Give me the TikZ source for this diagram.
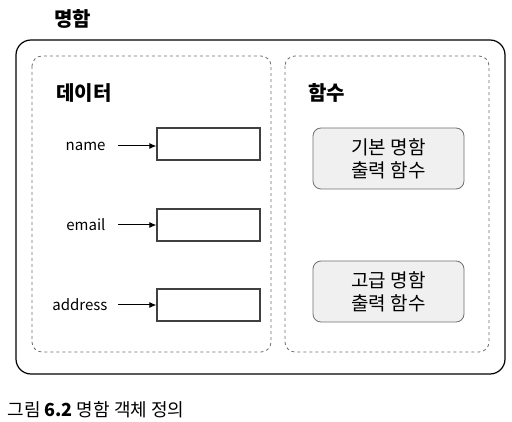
\documentclass[tikz,border=0pt]{standalone}
\usepackage{fontspec}
\setmainfont{Noto Sans CJK KR}
\usetikzlibrary{positioning,arrows.meta}
\definecolor{fungray}{HTML}{F0F0F0}
\definecolor{edgegray}{HTML}{707070}
\tikzset{
  groupbox/.style={draw=edgegray, dashed, rounded corners=10pt, line width=0.8pt},
  fieldbox/.style={draw=black!75, line width=1.2pt, minimum width=103pt, minimum height=32pt, inner sep=0pt},
  funcbox/.style={draw=edgegray, fill=fungray, rounded corners=8pt, line width=0.8pt, minimum width=151pt, minimum height=61pt, align=center, font=\fontsize{19}{23}\selectfont},
  fieldname/.style={font=\fontsize{15}{18}\selectfont, anchor=east},
  heading/.style={font=\fontsize{20}{24}\selectfont\bfseries, anchor=west},
  pointer/.style={-{Latex[length=7pt,width=6pt]}, line width=1pt}
}
\begin{document}
\begin{tikzpicture}[x=1pt, y=-1pt]
            \useasboundingbox[fill=white] (0,0) rectangle (512,422);
            \node[heading] (title) at (51,19) {명함};
            \draw[line width=1.2pt, rounded corners=15pt] (16,40) rectangle (505,374);
            \draw[groupbox] (32,56) rectangle (271,352);
            \draw[groupbox] (285,56) rectangle (489,352);
            \node[heading] (data) at (53,93) {데이터};
            \node[heading] (func) at (305,93) {함수};
            % data fields
            \node[fieldbox] (namebox) at (208.5,144) {};
            \node[fieldbox] (emailbox) at (208.5,225) {};
            \node[fieldbox] (addrbox) at (208.5,305) {};
            \node[fieldname] (name) at (109,146) {name};
            \node[fieldname] (email) at (109,225) {email};
            \node[fieldname] (addr) at (111,305) {address};
            \draw[pointer] (name.east) ++(9pt,0) coordinate (n0) (n0) -- (namebox.west |- n0);
            \draw[pointer] (email.east) ++(9pt,0) coordinate (e0) (e0) -- (emailbox.west |- e0);
            \draw[pointer] (addr.east) ++(7pt,0) coordinate (a0) (a0) -- (addrbox.west |- a0);
            % functions
            \node[funcbox] (basic) at (388.5,158.5) {기본 명함\\출력 함수};
            \node[funcbox] (fancy) at (388.5,291.5) {고급 명함\\출력 함수};
            \node[anchor=west, font=\fontsize{18}{21}\selectfont] (caption) at (4,410) {그림 \textbf{6.2} 명함 객체 정의};
        \end{tikzpicture}
\end{document}
